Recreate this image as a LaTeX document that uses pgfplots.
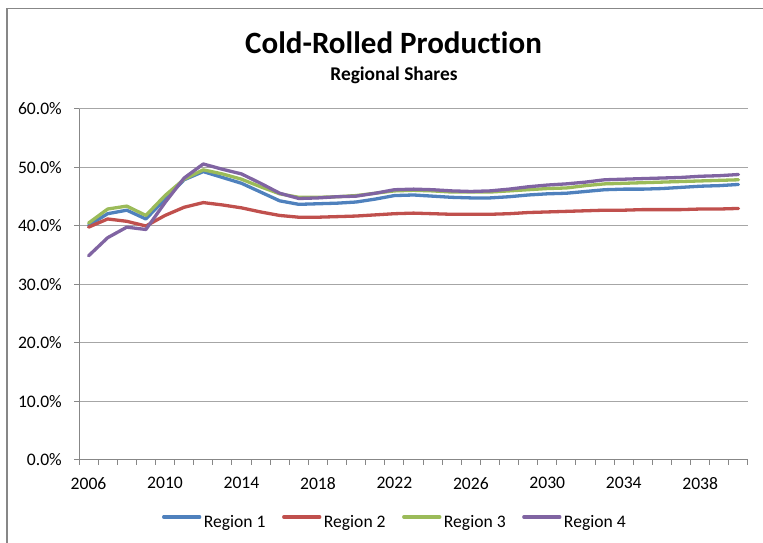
\documentclass[border=0pt]{standalone}
\usepackage{pgfplots}
\pgfplotsset{compat=1.18}
\usepackage{pgfplotstable}
\usepackage{fontspec}
\setmainfont{Carlito}[Ligatures={NoCommon,NoRare}]
\definecolor{rA}{HTML}{4F81BD}
\definecolor{rB}{HTML}{C0504D}
\definecolor{rC}{HTML}{9BBB59}
\definecolor{rD}{HTML}{8064A2}
\definecolor{gridc}{HTML}{A6A6A6}
\definecolor{axc}{HTML}{878787}
\pgfplotstableread{
year r1 r2 r3 r4
2006 40.1 39.8 40.5 34.9
2007 42.1 41.2 42.9 38.0
2008 42.7 40.8 43.4 39.8
2009 41.2 40.0 41.8 39.4
2010 44.6 41.8 45.2 44.0
2011 47.9 43.2 48.0 48.2
2012 49.3 44.0 49.6 50.6
2013 48.3 43.6 48.9 49.7
2014 47.3 43.1 48.0 48.9
2015 45.8 42.4 46.7 47.3
2016 44.3 41.8 45.5 45.6
2017 43.7 41.5 44.9 44.7
2018 43.8 41.5 44.9 44.8
2019 43.9 41.6 45.0 45.0
2020 44.1 41.7 45.2 45.1
2021 44.6 41.9 45.6 45.6
2022 45.2 42.1 46.0 46.2
2023 45.3 42.2 46.1 46.3
2024 45.1 42.1 46.0 46.2
2025 44.9 42.0 45.8 46.0
2026 44.8 42.0 45.8 45.9
2027 44.8 42.0 45.8 46.0
2028 45.0 42.1 46.0 46.3
2029 45.3 42.3 46.2 46.7
2030 45.5 42.4 46.4 47.0
2031 45.6 42.5 46.5 47.2
2032 45.9 42.6 46.9 47.5
2033 46.2 42.7 47.2 47.9
2034 46.3 42.7 47.3 48.0
2035 46.3 42.8 47.4 48.1
2036 46.4 42.8 47.5 48.2
2037 46.6 42.8 47.6 48.3
2038 46.8 42.9 47.7 48.5
2039 46.9 42.9 47.8 48.6
2040 47.1 43.0 47.9 48.8
}\datatable
\begin{document}
\begin{tikzpicture}[x=1bp,y=1bp]
\useasboundingbox (0,0) rectangle (763,543);
\draw[axc, line width=1.4bp] (7,0) -- (7,534.7) -- (763,534.7);
\node at (393.5,500) {\fontsize{31bp}{36bp}\selectfont\bfseries Cold-Rolled Production};
\node at (394,467.5) {\fontsize{19.4bp}{23bp}\selectfont\bfseries Regional Shares};
\begin{axis}[
  at={(79bp,83bp)}, anchor=south west,
  scale only axis, width=669bp, height=351bp,
  xmin=2005.5, xmax=2040.5, ymin=0, ymax=60,
  axis x line=bottom, axis y line=left,
  axis line style={-, axc, line width=1bp},
  xtick={2006,2010,2014,2018,2022,2026,2030,2034,2038},
  xticklabels={2006,2010,2014,2018,2022,2026,2030,2034,2038},
  minor xtick={2005.5,2006.5,...,2040.5},
  ytick={0,10,20,30,40,50,60},
  yticklabels={0.0\%,10.0\%,20.0\%,30.0\%,40.0\%,50.0\%,60.0\%},
  /pgf/number format/assume math mode=true,
  tick align=outside, tick pos=left,
  major tick length=5bp, minor tick length=5bp,
  major x tick style={draw=none},
  every tick/.style={axc, line width=1bp},
  minor tick style={axc, line width=1bp},
  ymajorgrids, grid style={gridc, line width=1bp},
  ticklabel style={font=\fontsize{17.6bp}{20bp}\selectfont},
  yticklabel style={inner sep=0pt, xshift=-12bp},
  xticklabel style={inner sep=0pt, yshift=-12bp},
  legend columns=4,
  legend style={at={(0.1241,-0.1766)}, anchor=west, draw=none, fill=none,
    inner sep=0pt, outer sep=0pt,
    nodes={inner sep=0pt, font=\fontsize{17.6bp}{20bp}\selectfont},
    /tikz/every odd column/.append style={column sep=2.5bp},
    /tikz/every even column/.append style={column sep=16.5bp}},
  legend image code/.code={\draw[#1] (0bp,5bp) -- (36bp,5bp);},
  every axis plot/.append style={line width=3.3bp, line join=round, line cap=round},
]
\addplot[rA] table[x=year,y=r1] {\datatable};
\addplot[rB] table[x=year,y=r2] {\datatable};
\addplot[rC] table[x=year,y=r3] {\datatable};
\addplot[rD] table[x=year,y=r4] {\datatable};
\legend{Region 1,Region 2,Region 3,Region 4}
\end{axis}
\end{tikzpicture}
\end{document}
